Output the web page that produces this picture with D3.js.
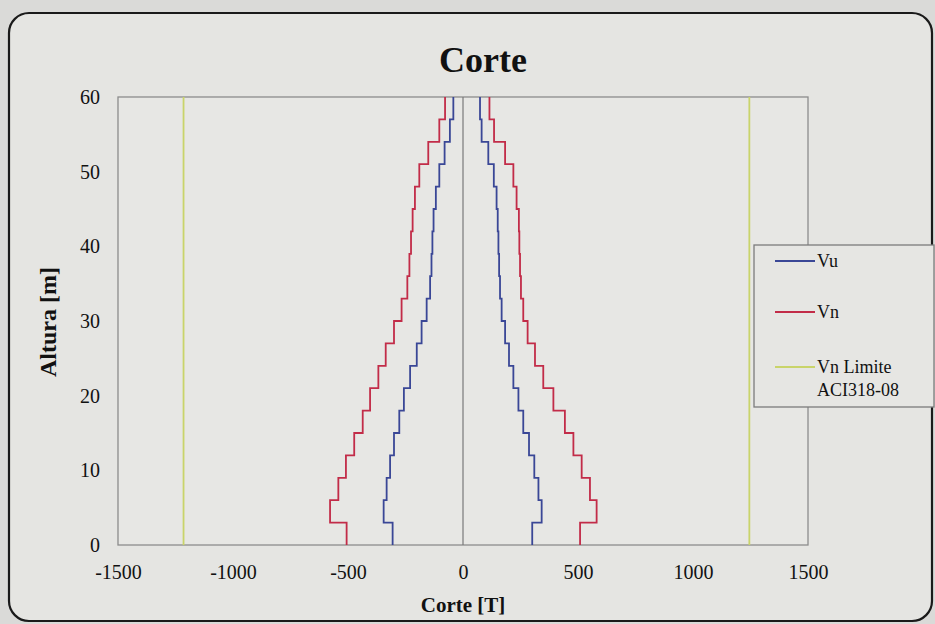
<!DOCTYPE html>
<html>
<head>
<meta charset="utf-8">
<script src="https://cdn.jsdelivr.net/npm/d3@7"></script>
<style>
  html, body { margin: 0; padding: 0; background: #dcdcda; }
  svg { display: block; }
</style>
</head>
<body>
<svg id="chart" width="935" height="624"></svg>
<script>
// Shear envelope along the wall height, one value per 3 m storey block
const heights = [0, 3, 6, 9, 12, 15, 18, 21, 24, 27, 30, 33, 36, 39, 42, 45, 48, 51, 54, 57, 60];
const vuNeg = [-306, -345, -332, -317, -300, -277, -257, -230, -201, -180, -158, -143, -137, -133, -128, -118, -103, -80, -57, -42];
const vuPos = [301, 342, 328, 310, 287, 262, 241, 219, 200, 183, 168, 161, 157, 154, 151, 146, 134, 110, 81, 74];
const vnNeg = [-506, -578, -542, -509, -473, -436, -404, -368, -336, -300, -267, -242, -233, -226, -219, -209, -190, -151, -103, -78];
const vnPos = [509, 581, 552, 516, 480, 443, 393, 349, 313, 281, 262, 252, 248, 245, 243, 233, 219, 183, 135, 115];
const vnLimit = [-1215, 1245];

const xTicks = [-1500, -1000, -500, 0, 500, 1000, 1500];
const yTicks = [0, 10, 20, 30, 40, 50, 60];

const seriesNames = ["Vu", "Vn", "Vn Limite|ACI318-08"];
const seriesColors = ["#3a4796", "#c22c48", "#c9d46a"];

const svg = d3.select("#chart");
const serif = "'Liberation Serif', 'Times New Roman', serif";

// Background and rounded frame
svg.append("rect").attr("x", 0).attr("y", 0).attr("width", 935).attr("height", 624).attr("fill", "#dadad8");
svg.append("rect")
  .attr("x", 9).attr("y", 13).attr("width", 923).attr("height", 608).attr("rx", 20)
  .attr("fill", "#e5e5e2").attr("stroke", "#1a1a1a").attr("stroke-width", 2.2);

const plot = { left: 118, right: 808, top: 97, bottom: 545 };
const x = d3.scaleLinear().domain([-1500, 1500]).range([plot.left, plot.right]);
const y = d3.scaleLinear().domain([0, 60]).range([plot.bottom, plot.top]);

// Plot area
svg.append("rect")
  .attr("x", plot.left).attr("y", plot.top)
  .attr("width", plot.right - plot.left).attr("height", plot.bottom - plot.top)
  .attr("fill", "#e7e7e4").attr("stroke", "#8c8c8c").attr("stroke-width", 1.3);

// Zero line
svg.append("line")
  .attr("x1", x(0)).attr("x2", x(0)).attr("y1", y(0)).attr("y2", y(60))
  .attr("stroke", "#7a7a7a").attr("stroke-width", 1.2);

// Axes (labels only), plain hyphen for negatives
const fmt = d => String(d);
const xAxis = svg.append("g").attr("transform", `translate(0,${plot.bottom})`)
  .call(d3.axisBottom(x).tickValues(xTicks).tickSize(0).tickPadding(20).tickFormat(fmt));
const yAxis = svg.append("g").attr("transform", `translate(${plot.left},0)`)
  .call(d3.axisLeft(y).tickValues(yTicks).tickSize(0).tickPadding(18).tickFormat(fmt));
[xAxis, yAxis].forEach(g => {
  g.select(".domain").remove();
  g.selectAll("text").attr("font-family", serif).attr("font-size", 20).attr("fill", "#111");
});

// Step profile: each block is a vertical segment from heights[i] to heights[i+1]
function stepPoints(values) {
  const pts = [];
  values.forEach((v, i) => {
    pts.push([v, heights[i]]);
    pts.push([v, heights[i + 1]]);
  });
  return pts;
}
const line = d3.line().x(d => x(d[0])).y(d => y(d[1]));

[[vnNeg, 1], [vnPos, 1], [vuNeg, 0], [vuPos, 0]].forEach(([vals, ci]) => {
  svg.append("path")
    .attr("d", line(stepPoints(vals)))
    .attr("fill", "none")
    .attr("stroke", seriesColors[ci])
    .attr("stroke-width", 1.8);
});

vnLimit.forEach(v => {
  svg.append("path")
    .attr("d", line([[v, 0], [v, 60]]))
    .attr("fill", "none")
    .attr("stroke", seriesColors[2])
    .attr("stroke-width", 1.8);
});

// Title and axis titles
svg.append("text").attr("x", 483).attr("y", 72).attr("text-anchor", "middle")
  .attr("font-family", serif).attr("font-weight", "bold").attr("font-size", 36).attr("fill", "#111")
  .text("Corte");
svg.append("text").attr("x", 463).attr("y", 612).attr("text-anchor", "middle")
  .attr("font-family", serif).attr("font-weight", "bold").attr("font-size", 21).attr("fill", "#111")
  .text("Corte [T]");
svg.append("text").attr("transform", "translate(56,322) rotate(-90)").attr("text-anchor", "middle")
  .attr("font-family", serif).attr("font-weight", "bold").attr("font-size", 24).attr("fill", "#111")
  .text("Altura [m]");

// Legend
const legend = svg.append("g");
legend.append("rect").attr("x", 754).attr("y", 245).attr("width", 180).attr("height", 162)
  .attr("fill", "#e6e6e3").attr("stroke", "#7c7c7c").attr("stroke-width", 1.3);
const legendY = [261, 312, 367];
seriesNames.forEach((name, i) => {
  legend.append("line").attr("x1", 775).attr("x2", 815).attr("y1", legendY[i]).attr("y2", legendY[i])
    .attr("stroke", seriesColors[i]).attr("stroke-width", 1.8);
  const t = legend.append("text").attr("x", 817).attr("y", legendY[i] + 6)
    .attr("font-family", serif).attr("font-size", 18).attr("fill", "#111");
  name.split("|").forEach((part, j) => {
    t.append("tspan").attr("x", 817).attr("dy", j === 0 ? 0 : 23).text(part);
  });
});
</script>
</body>
</html>
